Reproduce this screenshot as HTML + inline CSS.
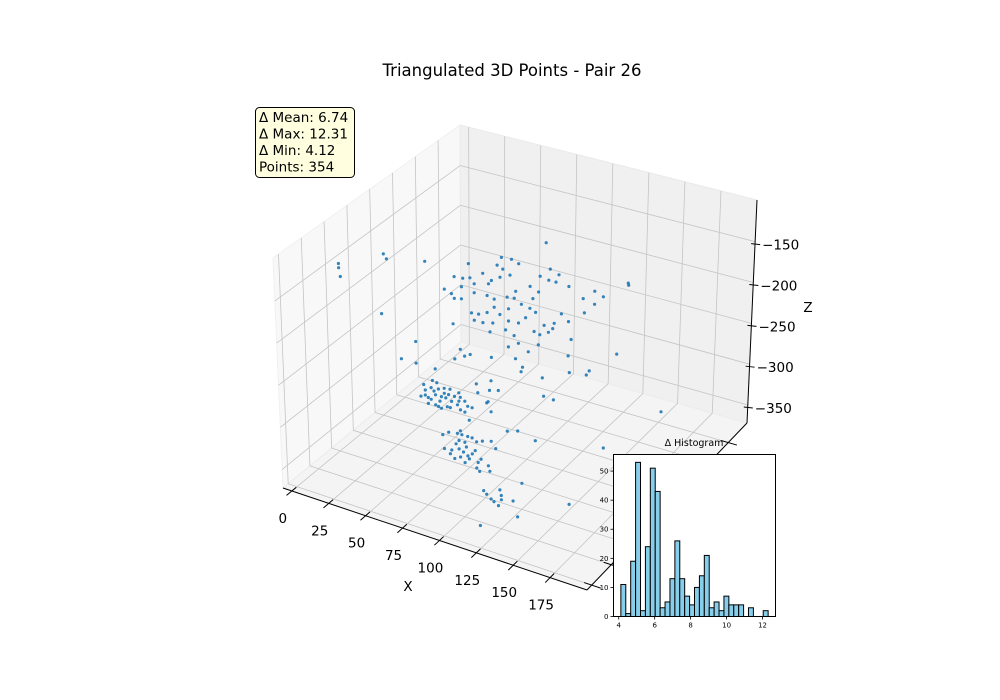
<!DOCTYPE html>
<html><head><meta charset="utf-8">
<style>
html,body{margin:0;padding:0;background:#fff;}
svg{display:block;font-family:"DejaVu Sans","Liberation Sans",sans-serif;}
</style></head>
<body>
<svg id="chart" width="1000" height="700" viewBox="0 0 1000 700" xmlns="http://www.w3.org/2000/svg">
<rect x="0" y="0" width="1000" height="700" fill="#fff"/>
<text x="512" y="76" text-anchor="middle" font-size="16.5" fill="#000">Triangulated 3D Points - Pair 26</text>
<g id="panes"></g>
<g id="grid"></g>
<g id="axes3d"></g>
<g id="points"></g>
<g>
<rect x="255.5" y="107.5" width="99" height="70" rx="4" ry="4" fill="#ffffe0" stroke="#000" stroke-width="1"/>
<text x="259" y="122" font-size="13.5">Δ Mean: 6.74</text>
<text x="259" y="138.5" font-size="13.5">Δ Max: 12.31</text>
<text x="259" y="155" font-size="13.5">Δ Min: 4.12</text>
<text x="259" y="171.5" font-size="13.5">Points: 354</text>
</g>
<g id="inset"></g>
</svg>
<script>
// ---------- 3D scatter data ----------
const xTicks = [0, 25, 50, 75, 100, 125, 150, 175];
const yTicks = [0, 25, 50, 75, 100, 125, 150, 175];
const zTicks = [-350, -300, -250, -200, -150];
const zTickLabels = ["\u2212350", "\u2212300", "\u2212250", "\u2212200", "\u2212150"];
const xRange = [-6, 200];
const yRange = [-6, 199];
const zRange = [-372, -99];

const ptX = [
48,55,60,25,45,49,35,47,41,54,
75,82,88,15,21,26,29,39,81,86,
95,8,13,15,20,29,38,43,52,58,
68,74,70,62,68,53,43,27,32,38,
29,35,42,47,53,60,65,72,78,85,
95,90,40,51,57,71,75,81,84,74,
60,67,53,97,105,113,119,113,106,136,
79,14,41,58,63,62,95,96,108,110,
129,77,19,22,26,15,20,57,78,85,
20,
49,55,58,50,52,56,59,63,60,57,
54,64,66,68,72,73,74,77,79,82,
61,59,65,74,77,80,47,52,63,67,
73,93,95,86,94,100,92,57,61,70,
54,67,50,44,34,44,57,85,95,
74,78,86,87,85,83,89,91,94,97,
101,107,75,80,85,88,91,94,86,82,
92,98,100,97,105,106,99,110,118,125,
137,183,96,90,84,89,79,
113,115,124,125,118,120,123,125,133,139,136,171,
119,
12,12,13,40,30,32,
150,125
];
const ptY = [
158,158,158,158,158,158,158,158,158,158,
158,158,158,158,158,158,158,158,158,158,
158,158,158,158,158,158,158,158,158,158,
158,158,158,158,158,158,158,158,158,158,
158,158,158,158,158,158,158,158,158,158,
158,158,158,158,158,158,158,158,158,158,
158,158,158,158,158,158,158,158,158,158,
158,158,158,158,158,158,158,158,158,158,
158,158,158,158,158,158,158,158,158,158,
117,
66,66,66,66,66,66,66,66,66,66,
66,66,66,66,66,66,66,66,66,66,
66,66,66,66,66,66,66,66,66,66,
66,66,66,66,66,66,66,66,66,66,
66,66,66,66,66,66,66,66,66,
45,45,45,45,45,45,45,45,45,45,
45,45,45,45,45,45,45,45,45,45,
45,45,45,45,45,45,45,45,45,45,
45,45,45,45,45,45,45,
25,25,25,25,25,25,25,25,25,25,25,25,
10,
35,35,35,35,55,55,
178,178
];
const ptZ = [
-204,-203,-206,-223,-215,-218,-230,-229,-236,-223,
-214,-202,-206,-244,-243,-240,-246,-241,-216,-216,
-217,-263,-266,-271,-269,-257,-256,-258,-251,-241,
-230,-234,-244,-255,-257,-265,-268,-283,-282,-277,
-291,-291,-288,-275,-280,-279,-270,-260,-273,-267,
-260,-253,-300,-292,-296,-284,-286,-280,-274,-299,
-304,-311,-312,-281,-227,-214,-218,-230,-244,-193,
-171,-303,-331,-324,-332,-338,-302,-322,-319,-313,
-283,-338,-332,-339,-335,-346,-254,-250,-360,-361,
-188,
-279,-271,-272,-291,-293,-283,-279,-282,-293,-299,
-294,-287,-282,-289,-291,-276,-281,-284,-289,-289,
-301,-300,-297,-296,-297,-305,-294,-300,-276,-275,
-286,-276,-287,-269,-262,-259,-278,-287,-287,-282,
-280,-297,-285,-230,-256,-256,-256,-259,-250,
-307,-302,-296,-300,-308,-313,-308,-300,-300,-303,
-300,-297,-323,-322,-318,-320,-323,-319,-327,-331,
-326,-327,-322,-334,-327,-333,-337,-304,-279,-275,
-280,-264,-314,-313,-300,-332,-327,
-334,-337,-327,-333,-341,-343,-346,-338,-335,-311,-352,-318,
-358,
-128,-133,-143,-173,-123,-128,
-362,-219
];

// ---------- histogram data ----------
const histCounts = [11,1,19,53,2,24,51,43,3,5,13,26,13,7,4,10,14,21,3,5,2,7,4,4,4,0,3,0,0,2];
const histRange = [4.12, 12.31];
const histXTicks = [4, 6, 8, 10, 12];
const histYTicks = [0, 10, 20, 30, 40, 50];

const NS = "http://www.w3.org/2000/svg";
function mk(tag, attrs, parent) {
  const e = document.createElementNS(NS, tag);
  for (const k in attrs) e.setAttribute(k, attrs[k]);
  parent.appendChild(e);
  return e;
}

const C = {
  L: [283, 488], F: [587, 590], B: [461, 342], R: [747, 423],
  Lt: [273, 258], Ft: [589, 352], Bt: [460, 125], Rt: [757, 200]
};
function bil(a, b, c, d, u, v) {
  return [
    a[0]*(1-u)*(1-v) + b[0]*u*(1-v) + c[0]*(1-u)*v + d[0]*u*v,
    a[1]*(1-u)*(1-v) + b[1]*u*(1-v) + c[1]*(1-u)*v + d[1]*u*v
  ];
}
function P(u, v, w) {
  const b = bil(C.L, C.F, C.B, C.R, u, v);
  const t = bil(C.Lt, C.Ft, C.Bt, C.Rt, u, v);
  return [b[0]*(1-w) + t[0]*w, b[1]*(1-w) + t[1]*w];
}
const xs = x => (x - xRange[0]) / (xRange[1] - xRange[0]);
const ys = y => (y - yRange[0]) / (yRange[1] - yRange[0]);
const zs = z => (z - zRange[0]) / (zRange[1] - zRange[0]);
const pts = a => a.map(p => p[0].toFixed(1) + "," + p[1].toFixed(1)).join(" ");

const panes = document.getElementById("panes");
let pe;
pe = mk("polygon", {points: pts([P(0,0,0), P(0,1,0), P(0,1,1), P(0,0,1)]), fill: "#f8f8f8", stroke: "#f0f0f0"}, panes);


pe = mk("polygon", {points: pts([P(0,1,0), P(1,1,0), P(1,1,1), P(0,1,1)]), fill: "#f0f0f0", stroke: "#eaeaea"}, panes);


pe = mk("polygon", {points: pts([P(0,0,0), P(1,0,0), P(1,1,0), P(0,1,0)]), fill: "#f4f4f4", stroke: "#ececec"}, panes);



const grid = document.getElementById("grid");
function gline(a, b, name) {
  const l = mk("line", {x1: a[0], y1: a[1], x2: b[0], y2: b[1], stroke: "#c4c4c4", "stroke-width": 0.8}, grid);
  
  
}
xTicks.forEach(t => {
  const u = xs(t);
  gline(P(u,0,0), P(u,1,0), "grid-x-floor");
  gline(P(u,1,0), P(u,1,1), "grid-x-back");
});
yTicks.forEach(t => {
  const v = ys(t);
  gline(P(0,v,0), P(1,v,0), "grid-y-floor");
  gline(P(0,v,0), P(0,v,1), "grid-y-left");
});
zTicks.forEach(t => {
  const w = zs(t);
  gline(P(0,0,w), P(0,1,w), "grid-z-left");
  gline(P(0,1,w), P(1,1,w), "grid-z-back");
});

const ax = document.getElementById("axes3d");
function aline(a, b, name) {
  const l = mk("line", {x1: a[0], y1: a[1], x2: b[0], y2: b[1], stroke: "#000", "stroke-width": 1}, ax);
  
  
}
aline(P(0,0,0), P(1,0,0), "x-axis-line");
aline(P(1,0,0), P(1,1,0), "y-axis-line");
aline(P(1,1,0), P(1,1,1), "z-axis-line");
xTicks.forEach(t => {
  const u = xs(t);
  aline(P(u, 0.025, 0), P(u, -0.03, 0), "x-tick");
  const p = P(u, 0, 0);
  const tx = mk("text", {x: p[0] - 9, y: p[1] + 32, "text-anchor": "middle", "font-size": 13.5}, ax);
  tx.textContent = String(t);
  
  
});
yTicks.forEach(t => {
  const v = ys(t);
  aline(P(0.975, v, 0), P(1.03, v, 0), "y-tick");
});
zTicks.forEach((t, i) => {
  const p = P(1, 1, zs(t));
  aline([p[0] - 4, p[1] + 2], [p[0] + 5, p[1] + 3], "z-tick");
  const tx = mk("text", {x: p[0] + 7, y: p[1] + 8, "font-size": 13.5}, ax);
  tx.textContent = zTickLabels[i];
  
  
});
let lab = mk("text", {x: 408, y: 591, "text-anchor": "middle", "font-size": 13.5}, ax);
lab.textContent = "X";


lab = mk("text", {x: 808, y: 312, "text-anchor": "middle", "font-size": 13.5}, ax);
lab.textContent = "Z";



const pg = document.getElementById("points");
const n = Math.min(ptX.length, ptY.length, ptZ.length);
for (let i = 0; i < n; i++) {
  const p = P(xs(ptX[i]), ys(ptY[i]), zs(ptZ[i]));
  const c = mk("circle", {cx: p[0].toFixed(1), cy: p[1].toFixed(1), r: 1.6, fill: "#1f77b4", "fill-opacity": 0.9}, pg);
  
  
}

const ig = document.getElementById("inset");
const box = {x0: 613.5, y0: 454.5, x1: 775.5, y1: 616.5};
const hxLim = [3.71, 12.72], hyLim = [0, 55.7];
const hx = v => box.x0 + (v - hxLim[0]) / (hxLim[1] - hxLim[0]) * (box.x1 - box.x0);
const hy = v => box.y1 - (v - hyLim[0]) / (hyLim[1] - hyLim[0]) * (box.y1 - box.y0);
let e = mk("rect", {x: box.x0, y: box.y0, width: box.x1 - box.x0, height: box.y1 - box.y0, fill: "#fff"}, ig);


const bw = (histRange[1] - histRange[0]) / histCounts.length;
histCounts.forEach((c, i) => {
  if (c <= 0) return;
  const a = histRange[0] + i * bw;
  const r = mk("rect", {x: hx(a).toFixed(2), y: hy(c).toFixed(2), width: (hx(a + bw) - hx(a)).toFixed(2), height: (hy(0) - hy(c)).toFixed(2), fill: "#87ceeb", stroke: "#000", "stroke-width": 1}, ig);
  
  
});
e = mk("rect", {x: box.x0, y: box.y0, width: box.x1 - box.x0, height: box.y1 - box.y0, fill: "none", stroke: "#000", "stroke-width": 1}, ig);


histXTicks.forEach(t => {
  const x = hx(t);
  const l = mk("line", {x1: x, y1: box.y1, x2: x, y2: box.y1 + 3, stroke: "#000", "stroke-width": 0.8}, ig);
  
  
  const tx = mk("text", {x: x, y: box.y1 + 11, "text-anchor": "middle", "font-size": 7}, ig);
  tx.textContent = String(t);
  
  
});
histYTicks.forEach(t => {
  const y = hy(t);
  const l = mk("line", {x1: box.x0 - 3, y1: y, x2: box.x0, y2: y, stroke: "#000", "stroke-width": 0.8}, ig);
  
  
  const tx = mk("text", {x: box.x0 - 5, y: y + 2.5, "text-anchor": "end", "font-size": 7}, ig);
  tx.textContent = String(t);
  
  
});
e = mk("text", {x: 694, y: 446, "text-anchor": "middle", "font-size": 9.5}, ig);
e.textContent = "Δ Histogram";


</script>
</body></html>
